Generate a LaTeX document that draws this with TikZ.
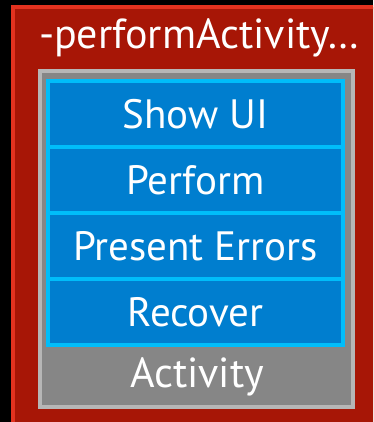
\documentclass[tikz,border=0pt]{standalone}
\usepackage{fontspec}
\setmainfont{PT Sans}
\usepackage{xcolor}
\usepackage{tikz}
\usetikzlibrary{positioning}

\definecolor{frameRed}{HTML}{E2321F}
\definecolor{frameFill}{HTML}{A71606}
\definecolor{grayBorder}{HTML}{B6B6B6}
\definecolor{grayFill}{HTML}{868686}
\definecolor{stepBorder}{HTML}{00BDFA}
\definecolor{stepFill}{HTML}{007ECF}

\begin{document}
\begin{tikzpicture}[x=1pt,y=-1pt,
    stepbox/.style={draw=stepBorder, fill=stepFill, line width=4pt,
        minimum width=295pt, minimum height=66pt, inner sep=0pt, outer sep=0pt,
        text=white, font=\fontsize{41}{48}\selectfont},
    label text/.style={text=white, font=\fontsize{42}{48}\selectfont, inner sep=0pt}]

    % background and outer method frame
    \fill[black] (0,0) rectangle (373,422);
    \useasboundingbox (0,0) rectangle (373,422);
    \begin{scope}
        \clip (0,0) rectangle (373,422);
        \draw[frameRed, fill=frameFill, line width=4pt] (13,7) rectangle (420,460);
    \end{scope}
    \node[label text] (method) at (199,38) {-performActivity\ldots};

    % activity box
    \node[draw=grayBorder, fill=grayFill, line width=4pt, inner sep=0pt, outer sep=0pt,
        minimum width=313pt, minimum height=336pt] (activity) at (196.5,239) {};
    \node[label text] (actlabel) at (197,377) {Activity};

    % steps
    \node[stepbox] (showui) at (195.5,114) {Show UI};
    \node[stepbox, below=0pt of showui] (perform) {Perform};
    \node[stepbox, below=0pt of perform] (errors) {Present Errors};
    \node[stepbox, below=0pt of errors] (recover) {Recover};

\end{tikzpicture}
\end{document}
